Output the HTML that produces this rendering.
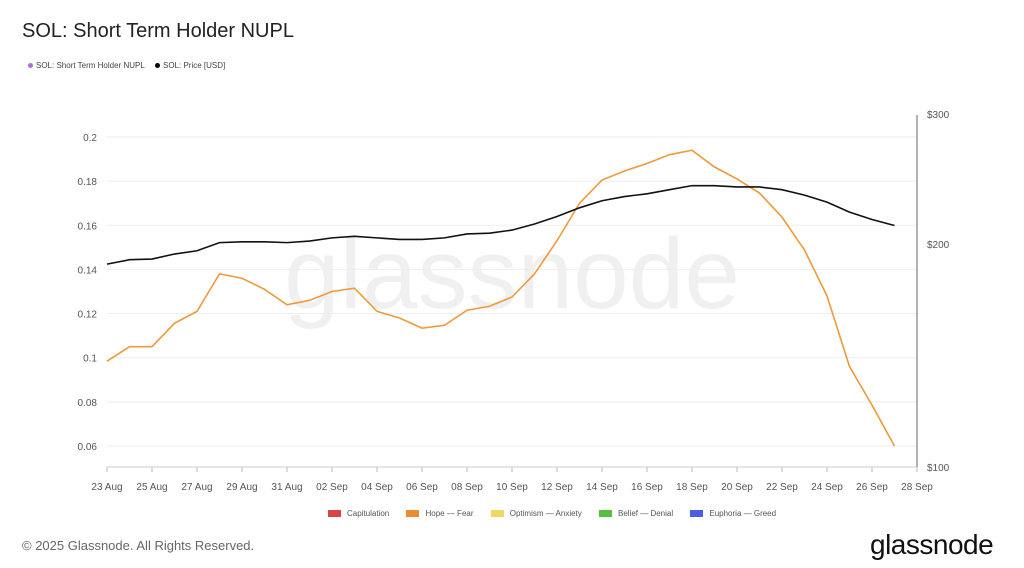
<!DOCTYPE html>
<html><head><meta charset="utf-8"><style>
body{margin:0;background:#fff;font-family:"Liberation Sans",sans-serif;}
#wrap{position:relative;width:1024px;height:568px;overflow:hidden;}
</style></head><body>
<div id="wrap">
<div style="position:absolute;left:22px;top:20px;font-size:20px;color:#222;">SOL: Short Term Holder NUPL</div>
<div style="position:absolute;left:28px;top:61px;font-size:8px;color:#444;"><span style="display:inline-block;width:5px;height:5px;border-radius:50%;background:#b36be0;margin-right:3px;"></span>SOL: Short Term Holder NUPL</div>
<div style="position:absolute;left:155px;top:61px;font-size:8px;color:#444;"><span style="display:inline-block;width:5px;height:5px;border-radius:50%;background:#000;margin-right:3px;"></span>SOL: Price [USD]</div>
<svg id="chart" width="1024" height="568" style="position:absolute;left:0;top:0;">
<text x="512" y="308" text-anchor="middle" font-size="100" fill="#000" fill-opacity="0.06" font-family="Liberation Sans">glassnode</text>
<g id="grid"></g><g id="axes"></g><g id="lines"></g>
</svg>
<div style="position:absolute;left:328px;top:509px;font-size:8px;color:#555;white-space:nowrap;">
<span><span style="display:inline-block;width:13px;height:7px;background:#d94545;margin-right:6px;vertical-align:middle"></span>Capitulation</span>
<span style="margin-left:15px"><span style="display:inline-block;width:13px;height:7px;background:#f08a30;margin-right:6px;vertical-align:middle"></span>Hope — Fear</span>
<span style="margin-left:15px"><span style="display:inline-block;width:13px;height:7px;background:#f0d860;margin-right:6px;vertical-align:middle"></span>Optimism — Anxiety</span>
<span style="margin-left:15px"><span style="display:inline-block;width:13px;height:7px;background:#55c040;margin-right:6px;vertical-align:middle"></span>Belief — Denial</span>
<span style="margin-left:15px"><span style="display:inline-block;width:13px;height:7px;background:#4a5fe0;margin-right:6px;vertical-align:middle"></span>Euphoria — Greed</span>
</div>
<div style="position:absolute;left:22px;top:538px;font-size:13px;color:#666;">© 2025 Glassnode. All Rights Reserved.</div>
<div style="position:absolute;left:870px;top:529px;font-size:28px;color:#111;letter-spacing:-0.5px;">glassnode</div>
</div>
<script>
const xLabels=["23 Aug","25 Aug","27 Aug","29 Aug","31 Aug","02 Sep","04 Sep","06 Sep","08 Sep","10 Sep","12 Sep","14 Sep","16 Sep","18 Sep","20 Sep","22 Sep","24 Sep","26 Sep","28 Sep"];
const leftTicks=[0.06,0.08,0.1,0.12,0.14,0.16,0.18,0.2];
const rightTicks=[100,200,300];
const nupl=[0.0984,0.105,0.105,0.1156,0.121,0.138,0.136,0.131,0.124,0.126,0.130,0.1315,0.121,0.118,0.1134,0.1147,0.1215,0.1233,0.1275,0.138,0.153,0.170,0.1805,0.1846,0.188,0.192,0.194,0.1864,0.181,0.1746,0.1637,0.1488,0.128,0.096,0.0785,0.06];
const price=[188,190.6,191,194,196,201,201.5,201.5,201,202,204,205,204,203,203,204,206.5,207,209,213,218,224,229,232,234,237,240,240,239,239,237,233,228,221,216,212];
const NS="http://www.w3.org/2000/svg";
const x0=107,dx=22.5;
const xs=i=>x0+i*dx;
const yL=v=>137+(0.2-v)/0.02*44.14;
const yR=p=>467-(Math.log10(p)-2)*740;
function mk(tag,attrs,parent){const e=document.createElementNS(NS,tag);for(const k in attrs)e.setAttribute(k,attrs[k]);document.getElementById(parent).appendChild(e);return e;}
leftTicks.forEach(v=>{
  const l=mk('line',{x1:107,x2:917,y1:yL(v),y2:yL(v),stroke:'#eee','stroke-width':1},'grid');
  
  
  const t=mk('text',{x:97,y:yL(v)+4,'text-anchor':'end','font-size':10,fill:'#555'},'axes');
  t.textContent=String(v);
  
  
});
rightTicks.forEach(p=>{
  const t=mk('text',{x:927,y:yR(p)+4,'font-size':10,fill:'#555'},'axes');
  t.textContent='$'+p;
  
  
});
xLabels.forEach((s,i)=>{
  const x=xs(i*2);
  const tk=mk('line',{x1:x,x2:x,y1:467,y2:472,stroke:'#bbb'},'axes');
  
  
  const t=mk('text',{x:x,y:490,'text-anchor':'middle','font-size':10,fill:'#555'},'axes');
  t.textContent=s;
  
  
});
const xa=mk('line',{x1:107,x2:917,y1:467,y2:467,stroke:'#ccc'},'axes');


const ra=mk('line',{x1:917,x2:917,y1:115,y2:467,stroke:'#666'},'axes');


const pn=mk('polyline',{points:nupl.map((v,i)=>xs(i)+','+yL(v)).join(' '),fill:'none',stroke:'#f0993a','stroke-width':1.6},'lines');


const pp=mk('polyline',{points:price.map((v,i)=>xs(i)+','+yR(v)).join(' '),fill:'none',stroke:'#111','stroke-width':1.6},'lines');


</script>
</body></html>
